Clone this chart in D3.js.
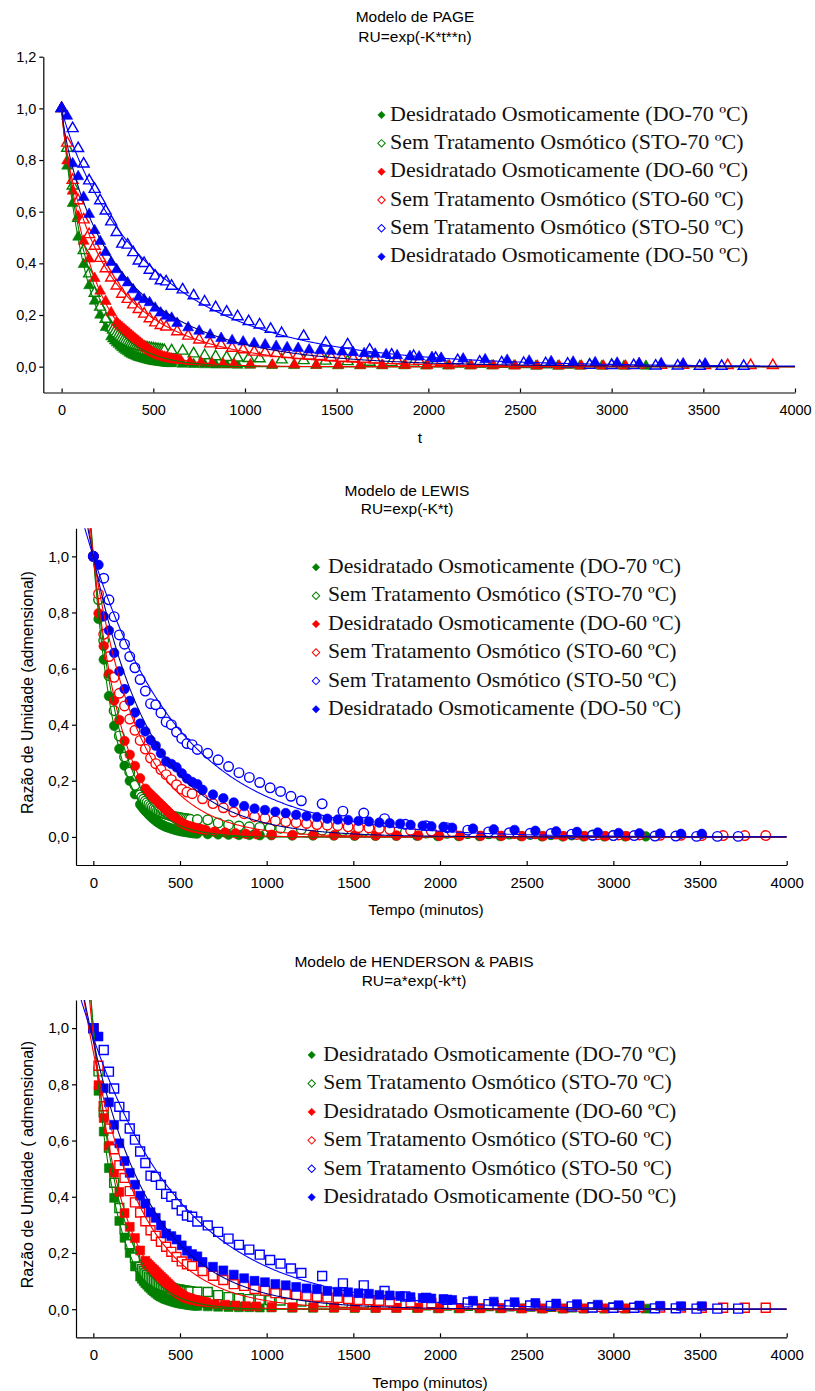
<!DOCTYPE html>
<html><head><meta charset="utf-8">
<script src="https://cdn.jsdelivr.net/npm/d3@7/dist/d3.min.js"></script>
<style>
html,body{margin:0;padding:0;background:#fff;}
svg{display:block;}
</style></head>
<body>
<svg id="chart" width="815" height="1391"></svg>
<script>
// ---------------- DATA ----------------
const seriesNames = ["Desidratado Osmoticamente (DO-70 ºC)","Sem Tratamento Osmótico (STO-70 ºC)","Desidratado Osmoticamente (DO-60 ºC)","Sem Tratamento Osmótico (STO-60 ºC)","Sem Tratamento Osmótico (STO-50 ºC)","Desidratado Osmoticamente (DO-50 ºC)"];
const seriesFilled = [true,false,true,false,false,true];
const seriesColors = ["#008000","#008000","#ff0000","#ff0000","#0000ff","#0000ff"];
const lineColors = ["#008000","#008000","#ff0000","#ff0000","#0000ff","#00008b"];

const tDO70 = [0,30,60,90,120,150,180,210,240,270,280,290,300,310,320,330,340,350,360,370,380,390,400,410,420,430,440,450,460,470,480,490,500,510,520,530,540,550,560,570,580,590,600,660,720,780,840,900,960,1027,1147,1267,1387,1507,1627,1747,1867,1987,2107,2227,2347,2467,2587,2707,2827,2947,3067,3187];
const ruDO70 = [1,0.777,0.632,0.502,0.396,0.314,0.254,0.200,0.152,0.116,0.108,0.100,0.093,0.087,0.080,0.074,0.068,0.063,0.058,0.053,0.049,0.045,0.042,0.039,0.036,0.034,0.032,0.030,0.028,0.026,0.024,0.023,0.021,0.020,0.019,0.018,0.017,0.016,0.015,0.014,0.013,0.013,0.012,0.010,0.009,0.008,0.007,0.007,0.006,0.006,0.005,0.005,0.005,0.004,0.004,0.004,0.004,0.003,0.003,0.003,0.003,0.003,0.002,0.002,0.002,0.002,0.002,0.002];

const tSTO70 = [0,30,60,90,120,150,180,210,240,270,280,290,300,310,320,330,340,350,360,370,380,390,400,410,420,430,440,450,460,470,480,490,500,510,520,530,540,550,560,600,660,720,780,840,900,960,1020,1080,1200,1320,1440,1560,1680,1800,1920,2040,2160,2280,2400,2520,2640,2760,2880,3000];
const ruSTO70 = [1,0.846,0.70,0.575,0.45,0.36,0.285,0.231,0.184,0.15,0.142,0.135,0.128,0.122,0.116,0.111,0.106,0.102,0.098,0.094,0.091,0.088,0.085,0.083,0.081,0.079,0.077,0.075,0.074,0.072,0.071,0.070,0.069,0.068,0.067,0.066,0.065,0.064,0.063,0.062,0.061,0.050,0.043,0.039,0.036,0.034,0.032,0.031,0.027,0.024,0.022,0.020,0.018,0.016,0.014,0.013,0.012,0.011,0.010,0.009,0.008,0.007,0.007,0.006];

const tDO60 = [0,30,60,90,120,150,180,210,240,270,300,310,320,330,340,350,360,370,380,390,400,410,420,430,440,450,460,470,480,490,500,510,520,530,540,550,560,570,580,590,600,610,620,630,640,650,700,760,820,880,940,1030,1150,1270,1390,1510,1630,1750,1875,1996,2115,2235,2356,2474,2595,2714,2835,2955,3076];
const ruDO60 = [1,0.797,0.68,0.581,0.486,0.417,0.342,0.293,0.253,0.209,0.172,0.163,0.157,0.151,0.145,0.139,0.133,0.127,0.121,0.115,0.109,0.103,0.097,0.091,0.085,0.079,0.073,0.068,0.063,0.058,0.054,0.050,0.046,0.043,0.041,0.039,0.037,0.035,0.033,0.032,0.030,0.029,0.027,0.026,0.025,0.024,0.019,0.016,0.013,0.011,0.010,0.008,0.007,0.007,0.006,0.006,0.005,0.005,0.005,0.004,0.004,0.004,0.004,0.003,0.003,0.003,0.003,0.003,0.003];

const tSTO60 = [0,30,60,90,120,150,180,210,240,270,300,330,360,390,420,450,480,510,540,570,630,690,750,810,870,930,990,1050,1110,1170,1230,1290,1350,1410,1470,1530,1590,1650,1710,1830,1950,2070,2190,2310,2430,2550,2670,2790,2910,3030,3150,3270,3390,3510,3633,3758,3879];
const ruSTO60 = [1,0.866,0.722,0.643,0.569,0.512,0.467,0.42,0.38,0.344,0.313,0.281,0.261,0.24,0.222,0.204,0.186,0.17,0.16,0.154,0.136,0.119,0.104,0.089,0.083,0.072,0.066,0.057,0.054,0.051,0.048,0.044,0.042,0.040,0.036,0.033,0.032,0.030,0.027,0.024,0.021,0.018,0.016,0.014,0.012,0.011,0.010,0.009,0.008,0.007,0.007,0.006,0.006,0.005,0.005,0.005,0.005];

const tSTO50 = [0,60,90,120,150,180,210,240,270,300,330,360,390,420,450,480,510,540,570,600,660,720,780,840,900,960,1020,1080,1140,1200,1320,1440,1560,1680,1800,1920,2040,2160,2280,2400,2520,2640,2760,2880,3000,3120,3240,3360,3480,3600,3720];
const ruSTO50 = [1,0.922,0.845,0.785,0.72,0.687,0.643,0.603,0.561,0.52,0.475,0.471,0.442,0.41,0.40,0.374,0.351,0.333,0.329,0.312,0.298,0.275,0.251,0.229,0.212,0.194,0.175,0.162,0.145,0.129,0.118,0.092,0.085,0.065,0.045,0.040,0.033,0.024,0.018,0.015,0.013,0.012,0.010,0.006,0.005,0.005,0.003,0.003,0.002,0.002,0.002];

const tDO50 = [0,30,60,90,120,150,180,210,240,270,300,330,360,390,420,450,480,510,540,570,600,630,690,750,810,870,930,990,1050,1110,1170,1230,1290,1350,1410,1470,1530,1590,1650,1710,1770,1830,1900,1950,2020,2070,2190,2310,2430,2550,2670,2790,2910,3030,3150,3270,3390,3510];
const ruDO50 = [1,0.97,0.786,0.736,0.656,0.59,0.527,0.485,0.443,0.404,0.376,0.345,0.325,0.298,0.269,0.26,0.248,0.227,0.208,0.196,0.188,0.168,0.151,0.138,0.123,0.110,0.101,0.096,0.090,0.085,0.079,0.074,0.071,0.065,0.062,0.060,0.057,0.055,0.051,0.049,0.047,0.043,0.040,0.038,0.036,0.033,0.030,0.027,0.025,0.022,0.020,0.018,0.016,0.014,0.013,0.012,0.011,0.011];

const xTicks = [0,500,1000,1500,2000,2500,3000,3500,4000];
const yTicksPage = [0,0.2,0.4,0.6,0.8,1.0,1.2];
const yTicksOther = [0,0.2,0.4,0.6,0.8,1.0];
const panelTitles = ["Modelo de PAGE","Modelo de LEWIS","Modelo de HENDERSON & PABIS"];
const panelFormulas = ["RU=exp(-K*t**n)","RU=exp(-K*t)","RU=a*exp(-k*t)"];
const xLabels = ["t","Tempo (minutos)","Tempo (minutos)"];
const yLabels = ["","Razão de Umidade (admensional)","Razão de Umidade ( admensional)"];

const seriesT = [tDO70,tSTO70,tDO60,tSTO60,tSTO50,tDO50];
const seriesRU = [ruDO70,ruSTO70,ruDO60,ruSTO60,ruSTO50,ruDO50];

// ---------------- model fitting (least squares) ----------------
function golden(f,a,b,it){
  const g=(Math.sqrt(5)-1)/2; let c=b-g*(b-a), d=a+g*(b-a), fc=f(c), fd=f(d);
  for(let i=0;i<(it||70);i++){
    if(fc<fd){b=d;d=c;fd=fc;c=b-g*(b-a);fc=f(c);} else {a=c;c=d;fc=fd;d=a+g*(b-a);fd=f(d);}
  }
  return (a+b)/2;
}
function sse(ts,ys,fn){let s=0;for(let i=0;i<ts.length;i++){const r=ys[i]-fn(ts[i]);s+=r*r;}return s;}
function fitLewis(ts,ys){
  const lk=golden(l=>sse(ts,ys,t=>Math.exp(-Math.exp(l)*t)),-12,0);
  const k=Math.exp(lk); return t=>Math.exp(-k*t);
}
function fitHenderson(ts,ys){
  function aFor(k){let n=0,d=0;for(let i=0;i<ts.length;i++){const e=Math.exp(-k*ts[i]);n+=ys[i]*e;d+=e*e;}return n/d;}
  const lk=golden(l=>{const k=Math.exp(l),a=aFor(k);return sse(ts,ys,t=>a*Math.exp(-k*t));},-12,0);
  const k=Math.exp(lk),a=aFor(k); return t=>a*Math.exp(-k*t);
}
function fitPage(ts,ys){
  function inner(n){const lk=golden(l=>sse(ts,ys,t=>Math.exp(-Math.exp(l)*Math.pow(t,n))),-20,2,60);return lk;}
  const n=golden(nn=>{const lk=inner(nn);return sse(ts,ys,t=>Math.exp(-Math.exp(lk)*Math.pow(t,nn)));},0.3,2.5,50);
  const k=Math.exp(inner(n)); return t=>Math.exp(-k*Math.pow(t,n));
}

// ---------------- drawing ----------------
const svg=d3.select("#chart");
const fmt=v=>d3.format(".1f")(v).replace(".",",");

const panels=[
  {x0:43.3,x1:795,yTop:56.7,yBot:392.5,dom:[-0.1,1.2],yt:yTicksPage,sym:d3.symbolTriangle,symSize:52,fit:fitPage,tStart:0,
   titleX:415,titleY:[22,42],xlabY:443,xlabX:420,ylabX:0,tickFont:14.5,
   leg:{mx:381.5,tx:390,y0:115,dy:28.33,fs:22}},
  {x0:76,x1:786.7,yTop:528.3,yBot:865,dom:[-0.1,1.1],yt:yTicksOther,sym:d3.symbolCircle,symSize:72,fit:fitLewis,tStart:-100,
   titleX:407,titleY:[496,514],xlabY:915,xlabX:426,ylabX:28,tickFont:15,
   leg:{mx:316,tx:328,y0:567.3,dy:28.4,fs:21.7}},
  {x0:76,x1:786.7,yTop:1000,yBot:1337.3,dom:[-0.1,1.1],yt:yTicksOther,sym:d3.symbolSquare,symSize:80,fit:fitHenderson,tStart:-100,
   titleX:414,titleY:[967,986],xlabY:1388,xlabX:430,ylabX:28,tickFont:15,
   leg:{mx:311.7,tx:323.3,y0:1055,dy:28.45,fs:21.7}}
];

panels.forEach((p,pi)=>{
  const g=svg.append("g");
  const x=d3.scaleLinear().domain([-100,4000]).range([p.x0,p.x1]);
  const y=d3.scaleLinear().domain(p.dom).range([p.yBot,p.yTop]);

  // titles
  g.append("text").attr("x",p.titleX).attr("y",p.titleY[0]).attr("text-anchor","middle")
    .style("font-family","'Liberation Sans',Arial,sans-serif").style("font-size","15.5px").text(panelTitles[pi]);
  g.append("text").attr("x",p.titleX).attr("y",p.titleY[1]).attr("text-anchor","middle")
    .style("font-family","'Liberation Sans',Arial,sans-serif").style("font-size","15.5px").text(panelFormulas[pi]);

  // axes
  const ax=g.append("g").attr("transform",`translate(0,${p.yBot})`)
    .call(d3.axisBottom(x).tickValues(xTicks).tickSizeInner(-4).tickSizeOuter(0).tickPadding(12).tickFormat(d3.format("d")));
  const ay=g.append("g").attr("transform",`translate(${p.x0},0)`)
    .call(d3.axisLeft(y).tickValues(p.yt).tickSizeInner(4).tickSizeOuter(0).tickPadding(3).tickFormat(fmt));
  [ax,ay].forEach(a=>{
    a.selectAll("text").style("font-family","'Liberation Sans',Arial,sans-serif").style("font-size",p.tickFont+"px").attr("fill","#000");
    a.selectAll("path,line").attr("stroke","#000").attr("stroke-width",1.2);
  });

  g.append("text").attr("x",p.xlabX).attr("y",p.xlabY).attr("text-anchor","middle")
    .style("font-family","'Liberation Sans',Arial,sans-serif").style("font-size","15.5px").text(xLabels[pi]);
  if(yLabels[pi]){
    const cy=(p.yTop+p.yBot)/2+ -4;
    g.append("text").attr("transform",`translate(${p.ylabX+5},${cy}) rotate(-90)`).attr("text-anchor","middle")
      .style("font-family","'Liberation Sans',Arial,sans-serif").style("font-size","16px").text(yLabels[pi]);
  }

  // clip
  const cid="clip"+pi;
  g.append("clipPath").attr("id",cid).append("rect")
    .attr("x",p.x0).attr("y",p.yTop).attr("width",p.x1-p.x0).attr("height",p.yBot-p.yTop);
  const plot=g.append("g").attr("clip-path",`url(#${cid})`);

  // markers
  seriesT.forEach((ts,si)=>{
    const pts=ts.map((t,i)=>[t,seriesRU[si][i]]);
    const sym=d3.symbol().type(p.sym).size(p.symSize);
    plot.append("g").selectAll("path").data(pts).join("path")
      .attr("transform",d=>`translate(${x(d[0])},${y(d[1])})`)
      .attr("d",sym)
      .attr("fill",seriesFilled[si]?seriesColors[si]:"#fff")
      .attr("stroke",seriesColors[si])
      .attr("stroke-width",seriesFilled[si]?0.6:1.4);
  });

  // fitted lines
  seriesT.forEach((ts,si)=>{
    const f=p.fit(ts,seriesRU[si]);
    const tt=d3.range(p.tStart,4000.1,4);
    const line=d3.line().x(t=>x(t)).y(t=>y(f(t)));
    plot.append("path").datum(tt).attr("d",line).attr("fill","none")
      .attr("stroke",lineColors[si]).attr("stroke-width",1.1);
  });

  // legend
  const L=p.leg;
  seriesNames.forEach((nm,si)=>{
    const yy=L.y0+si*L.dy;
    g.append("path").attr("d",d3.symbol().type(d3.symbolSquare).size(28)())
      .attr("transform",`translate(${L.mx},${yy}) rotate(45)`)
      .attr("fill",seriesFilled[si]?seriesColors[si]:"#fff")
      .attr("stroke",seriesColors[si]).attr("stroke-width",seriesFilled[si]?0.5:1);
    g.append("text").attr("x",L.tx).attr("y",yy+5.7)
      .style("font-family","'Liberation Serif','Times New Roman',serif").style("font-size",L.fs+"px")
      .attr("fill","#111").text(nm);
  });
});
</script>
</body></html>
